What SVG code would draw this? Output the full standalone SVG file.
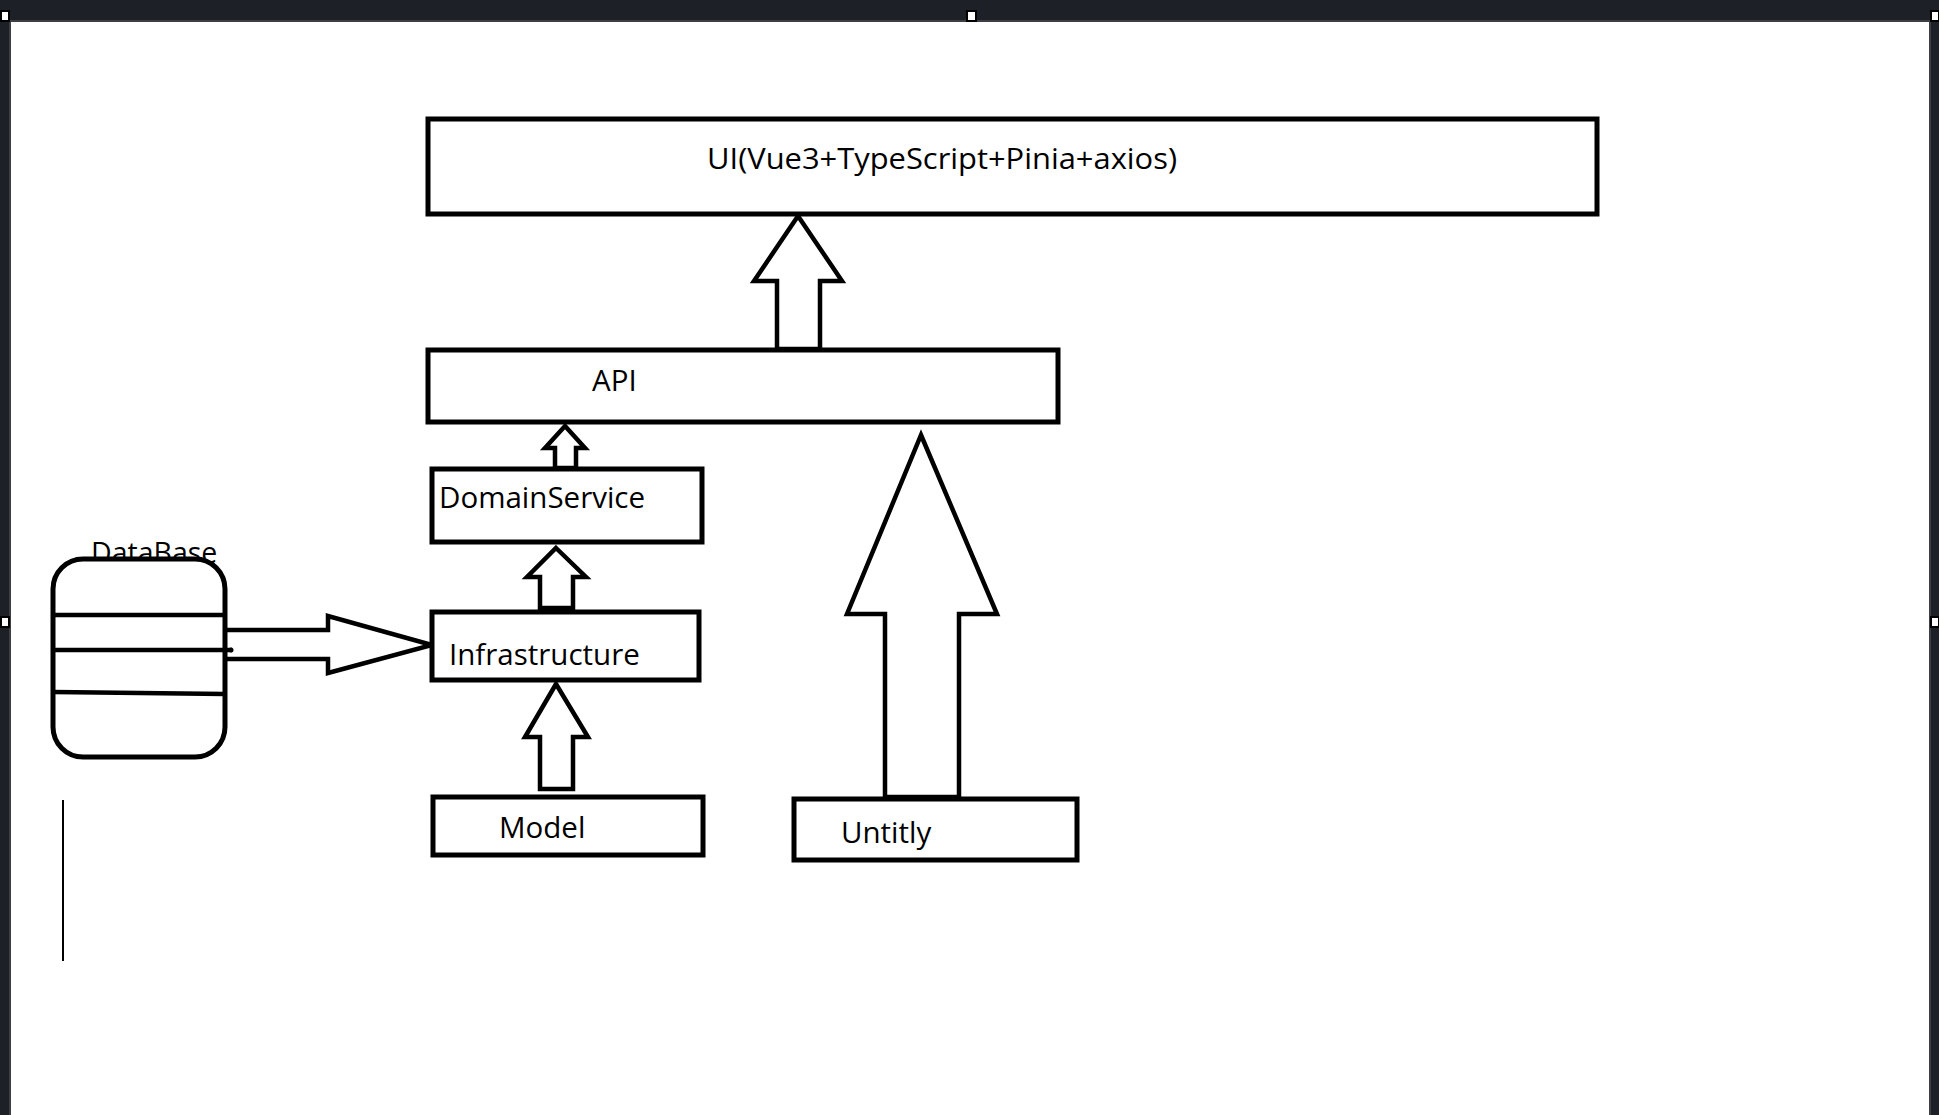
<svg xmlns="http://www.w3.org/2000/svg" width="1939" height="1115" viewBox="0 0 1939 1115">
  <style>
    .box { fill: #ffffff; stroke: #000000; stroke-width: 5; }
    .arrow { fill: #ffffff; stroke: #000000; stroke-width: 4.5; stroke-linejoin: miter; }
    .lbl { font-family: "Open Sans", "Noto Sans", "Liberation Sans", sans-serif; font-size: 29.5px; fill: #000000; }
    .band { fill: #1d2026; }
    .edge { fill: #3c3f44; }
    .handle { fill: #ffffff; stroke: #000000; stroke-width: 2; }
    .dbline { fill: none; stroke: #000000; stroke-width: 4.5; }
  </style>
  <rect x="0" y="0" width="1939" height="1115" fill="#ffffff"/>
  <!-- window frame -->
  <g id="frame">
    <rect class="band" x="0" y="0" width="1939" height="21"/>
    <rect class="edge" x="10" y="20" width="1921" height="2"/>
    <rect class="band" x="0" y="0" width="9" height="1115"/>
    <rect class="edge" x="9" y="21" width="2" height="1094"/>
    <rect class="band" x="1931" y="0" width="8" height="1115"/>
    <rect class="edge" x="1929" y="21" width="2" height="1094"/>
    <rect class="handle" x="1" y="11" width="8" height="10"/>
    <rect class="handle" x="967" y="11" width="9" height="10"/>
    <rect class="handle" x="1931" y="11" width="8" height="10"/>
    <rect class="handle" x="1" y="617" width="8" height="10"/>
    <rect class="handle" x="1931" y="617" width="8" height="10"/>
  </g>

  <g id="connectors">
    <path id="c-api-ui" class="arrow" d="M798,216 L842,281 L820,281 L820,349 L777,349 L777,281 L754,281 Z"/>
    <path id="c-ds-api" class="arrow" d="M565,426 L585,448 L576,448 L576,468 L555,468 L555,448 L545,448 Z"/>
    <path id="c-infra-ds" class="arrow" d="M556,548 L586,577 L573,577 L573,608 L540,608 L540,577 L527,577 Z"/>
    <path id="c-model-infra" class="arrow" d="M556,684 L588,737 L573,737 L573,789 L540,789 L540,737 L525,737 Z"/>
    <path id="c-util-api" class="arrow" d="M921,435 L997,614 L959,614 L959,797 L885,797 L885,614 L847,614 Z"/>
    <path id="c-db-infra" class="arrow" d="M225,630 L328,630 L328,616 L432,645 L328,673 L328,659 L225,659"/>
    <line x1="63" y1="800" x2="63" y2="961" stroke="#000000" stroke-width="2"/>
  </g>

  <g id="node-ui">
    <rect class="box" x="428" y="119" width="1169" height="95"/>
    <text class="lbl" x="707" y="169" textLength="470" lengthAdjust="spacingAndGlyphs">UI(Vue3+TypeScript+Pinia+axios)</text>
  </g>
  <g id="node-api">
    <rect class="box" x="428" y="350" width="630" height="72"/>
    <text class="lbl" x="592" y="391">API</text>
  </g>
  <g id="node-domainservice">
    <rect class="box" x="432" y="469" width="270" height="73"/>
    <text class="lbl" x="439" y="508">DomainService</text>
  </g>
  <g id="node-infrastructure">
    <rect class="box" x="432" y="612" width="267" height="68"/>
    <text class="lbl" x="449" y="665">Infrastructure</text>
  </g>
  <g id="node-model">
    <rect class="box" x="433" y="797" width="270" height="58"/>
    <text class="lbl" x="499" y="838">Model</text>
  </g>
  <g id="node-untitly">
    <rect class="box" x="794" y="799" width="283" height="61"/>
    <text class="lbl" x="841" y="843">Untitly</text>
  </g>
  <g id="node-database">
    <text class="lbl" x="91" y="563" style="font-size:28.5px">DataBase</text>
    <rect class="box" x="53" y="559" width="172" height="198" rx="30" ry="30"/>
    <line class="dbline" x1="53" y1="615" x2="225" y2="615"/>
    <line class="dbline" x1="53" y1="650" x2="232" y2="650"/>
    <path class="dbline" d="M53,692 L97,692.5 L225,694"/>
    <circle cx="231" cy="650" r="2.5" fill="#000000"/>
  </g>
</svg>
